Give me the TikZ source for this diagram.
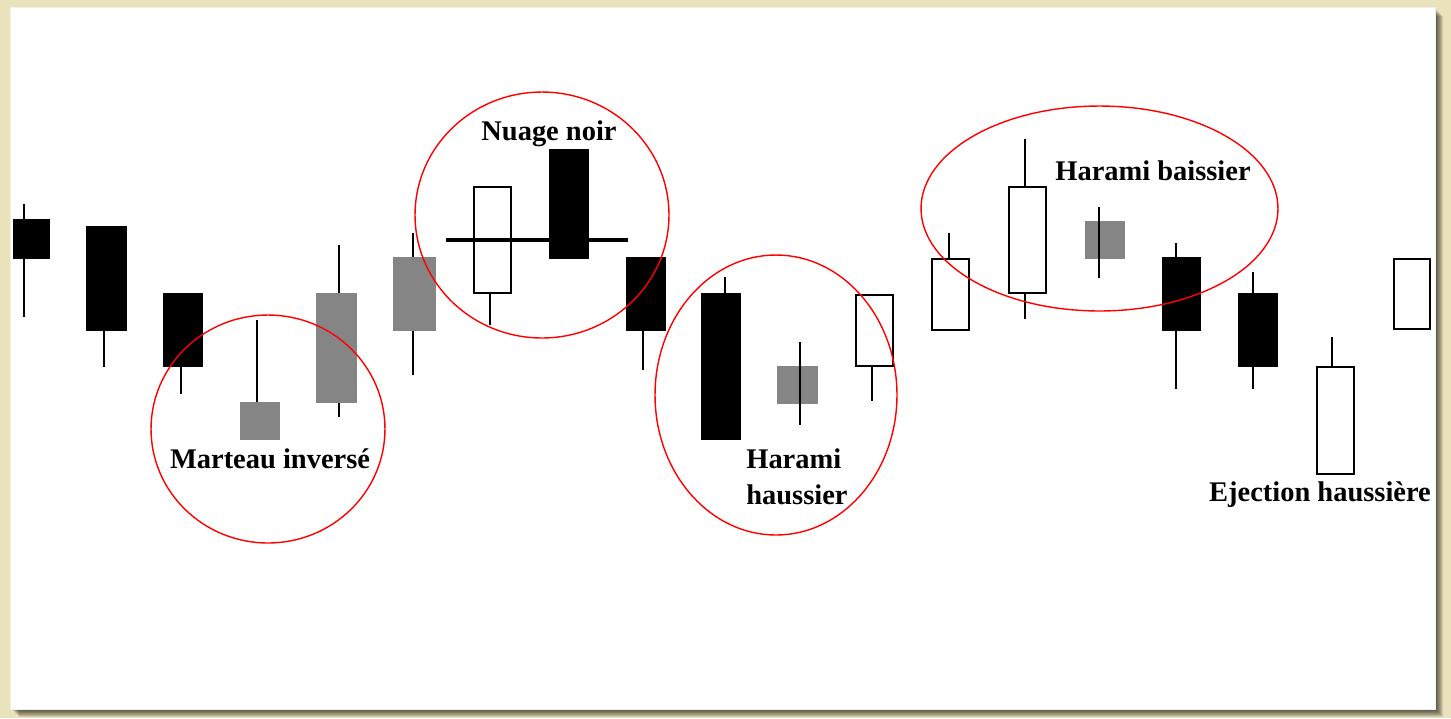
\documentclass[tikz,border=0pt]{standalone}
\usepackage{fontspec}
\setmainfont{Liberation Serif}
\usetikzlibrary{shapes.geometric}
\definecolor{fond}{HTML}{E9E2BA}
\definecolor{grisbougie}{HTML}{858585}

\begin{document}
\begin{tikzpicture}[x=0.02cm, y=-0.02cm,
    baisse/.style={fill=black},
    hausse/.style={draw=black, fill=white, line width=1.1pt},
    neutre/.style={fill=grisbougie},
    meche/.style={line width=1.1pt},
    cercle/.style={draw=red, ellipse, line width=0.8pt, inner sep=0pt},
    titre/.style={font=\bfseries\fontsize{16.2}{20.4}\selectfont, inner sep=0pt}]
  % Fond et cadre
  \fill[fond] (0,0) rectangle (1451,718);
  \foreach \s in {1,...,8}
      \fill[black, opacity=0.11] (10+\s+1,7+\s+1) rectangle (1435+\s,709+\s);
  \filldraw[fill=white, draw=gray!12] (10,7) rectangle (1435,709);

  % Bougies : corps gauche/droite/haut/bas, meche x/haut/bas, type
  \foreach \xg/\xd/\yh/\yb/\xm/\mh/\mb/\type in {
      13/50/219/259/24/204/317/baisse,
      86/127/226/331/104/226/367/baisse,
      163/203/293/367/181/293/394/baisse,
      240/280/402/440/257/320/440/neutre,
      316/357/293/403/339/245/417/neutre,
      393/436/257/331/413/233/375/neutre,
      474/511/187/293/490/187/325/hausse,
      549/589/149/259/569/149/259/baisse,
      626/666/257/331/643/257/370/baisse,
      701/741/293/440/725/277/440/baisse,
      777/818/366/404/800/342/425/neutre,
      856/893/295/366/872/295/401/hausse,
      932/969/259/330/949/233/330/hausse,
      1009/1046/187/293/1025/139/319/hausse,
      1085/1125/221/259/1099/207/278/neutre,
      1162/1201/257/331/1176/243/389/baisse,
      1238/1278/293/367/1253/272/389/baisse,
      1317/1354/367/474/1332/337/474/hausse,
      1394/1430/259/329/1412/259/329/hausse}
  {
      \draw[meche] (\xm,\mh) -- (\xm,\mb);
      \path[\type] (\xg,\yh) rectangle (\xd,\yb);
  }
  % Meches qui traversent les petits corps gris
  \foreach \xm/\mh/\mb in {800/342/425, 1099/207/278}
      \draw[meche] (\xm,\mh) -- (\xm,\mb);

  % Ligne du nuage noir
  \draw[line width=1.8pt] (446,240) -- (628,240);

  % Cercles rouges
  \node[cercle, minimum width=4.68cm, minimum height=4.56cm] (marteau) at (268,429) {};
  \node[cercle, minimum width=5.08cm, minimum height=4.92cm] (nuage) at (542,215) {};
  \node[cercle, minimum width=4.84cm, minimum height=5.6cm] (haramih) at (776,395) {};
  \node[cercle, minimum width=7.14cm, minimum height=4.1cm] (haramib) at (1099.5,208.5) {};

  % Noms des figures
  \node[titre] (tmarteau) at (270,459) {Marteau inversé};
  \node[titre] (tnuage) at (549,134) {Nuage noir};
  \node[titre, align=left, anchor=west] (tharamih) at (746,477) {Harami\\haussier};
  \node[titre] (tharamib) at (1153,171) {Harami baissier};
  \node[titre] (tejection) at (1320,495) {Ejection haussière};
\end{tikzpicture}
\end{document}
